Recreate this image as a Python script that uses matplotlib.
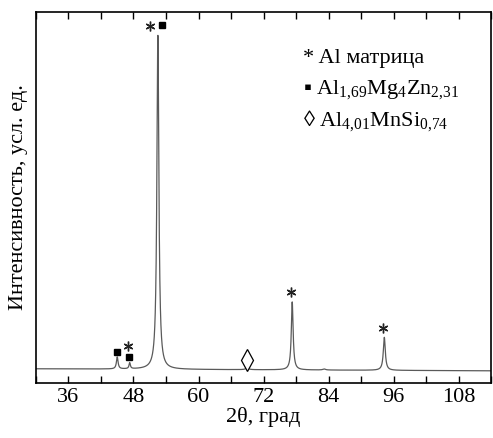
import numpy as np
import matplotlib
matplotlib.use("Agg")
import matplotlib.pyplot as plt
from matplotlib.ticker import MultipleLocator

plt.rcParams['font.family'] = ['Liberation Serif', 'DejaVu Serif']
plt.rcParams['mathtext.fontset'] = 'custom'
plt.rcParams['mathtext.rm'] = 'Liberation Serif'
plt.rcParams['mathtext.it'] = 'Liberation Serif:italic'

# peaks: position (2theta), height, half width
peak_pos = [45.0, 47.3, 52.5, 69.0, 77.3, 83.2, 94.3]
peak_height = [12, 6, 334, 2, 68, 1, 33]
peak_hwhm = [0.18, 0.15, 0.22, 0.3, 0.2, 0.3, 0.22]
base_left, base_right = 14, 12

# phase markers
star_x = [51.1, 46.9, 77.1, 94.0]
star_y = [357, 37, 91, 55]
sq_x = [53.2, 45.0, 47.1]
sq_y = [358, 31, 26]
dia_x = [69.0]
dia_y = [23]

legend_lines = ["* Al матрица",
                "▪ Al$_{1{,}69}$Mg$_4$Zn$_{2{,}31}$",
                "◊ Al$_{4{,}01}$MnSi$_{0{,}74}$"]

x = np.linspace(30, 114, 6000)
y = base_left + (base_right - base_left) * (x - 30) / 84
for p, h, w in zip(peak_pos, peak_height, peak_hwhm):
    y = y + h / (1 + ((x - p) / w) ** 2)

fig = plt.figure(figsize=(4.93, 4.38), dpi=100)
ax = fig.add_axes([0.073, 0.126, 0.923, 0.847])
ax.plot(x, y, color='#5a5a5a', lw=0.9)
ax.set_xlim(30, 114)
ax.set_ylim(0, 371)

ax.plot(star_x, star_y, ls='none', marker=(6, 2, 0), ms=7, mew=1.0, color='#222222')
ax.plot(sq_x, sq_y, ls='none', marker='s', ms=4.5, color='black')
ax.plot(dia_x, dia_y, ls='none', marker='d', ms=11, mfc='white', mec='black', mew=0.9)

ax.xaxis.set_minor_locator(MultipleLocator(6))
ax.set_xticks([36, 48, 60, 72, 84, 96, 108])
ax.tick_params(axis='x', which='both', direction='in', top=True, labelsize=16,
               length=5, width=1)
ax.set_yticks([])
for sp in ax.spines.values():
    sp.set_linewidth(1.2)

ax.set_xlabel("2θ, град", fontsize=16, labelpad=0)
ax.set_ylabel("Интенсивность, усл. ед.", fontsize=16, labelpad=6)

for i, s in enumerate(legend_lines):
    ax.text(0.587, 0.8625 - i * 0.084, s, transform=ax.transAxes, fontsize=16,
            va='baseline')

fig.savefig("out.png", dpi=100)
